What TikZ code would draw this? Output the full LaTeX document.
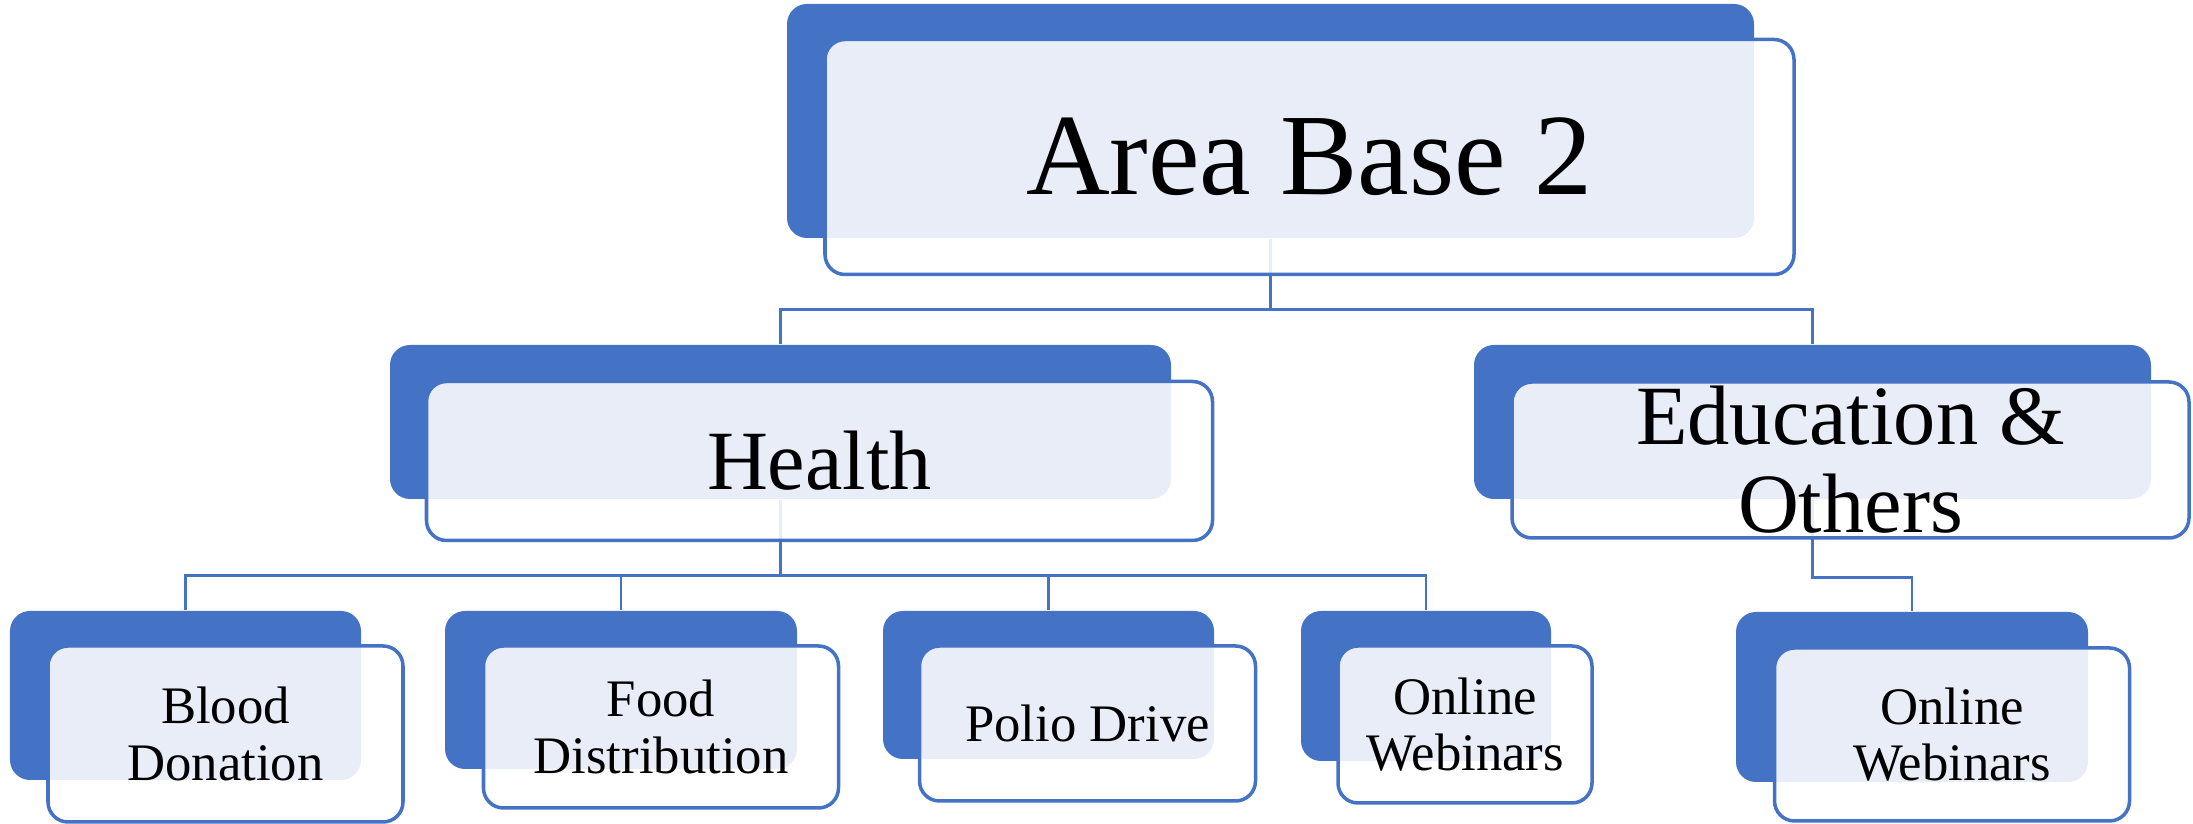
\documentclass[tikz,border=0pt]{standalone}
\usepackage{fontspec}
\setmainfont{Liberation Serif}
\definecolor{boxblue}{HTML}{4472C4}
\tikzset{
  back/.style={rectangle, rounded corners=0.2cm, fill=boxblue, inner sep=0pt},
  front/.style={rectangle, rounded corners=0.2cm, draw=boxblue, line width=1pt,
    fill=white, fill opacity=0.88, text opacity=1, align=center, inner sep=0pt},
  link/.style={draw=boxblue, line width=0.8pt},
  big/.style={font=\fontsize{33}{36}\selectfont},
  mid/.style={font=\fontsize{24}{25}\selectfont},
  small/.style={font=\fontsize{15}{16}\selectfont}
}

\begin{document}
\begin{tikzpicture}
\useasboundingbox (0,0) rectangle (21.93,-8.24);
% dark boxes behind
\node[back, minimum width=9.67cm, minimum height=2.34cm] (top) at (12.705,-1.21) {};
\node[back, minimum width=7.81cm, minimum height=1.54cm] (health) at (7.805,-4.22) {};
\node[back, minimum width=6.77cm, minimum height=1.54cm] (edu) at (18.125,-4.22) {};
\node[back, minimum width=3.51cm, minimum height=1.69cm] (blood) at (1.855,-6.955) {};
\node[back, minimum width=3.52cm, minimum height=1.58cm] (food) at (6.21,-6.90) {};
\node[back, minimum width=3.31cm, minimum height=1.48cm] (polio) at (10.485,-6.85) {};
\node[back, minimum width=2.50cm, minimum height=1.50cm] (web1) at (14.26,-6.86) {};
\node[back, minimum width=3.52cm, minimum height=1.70cm] (web2) at (19.12,-6.97) {};
% connectors
\draw[link] (top.south) -- ++(0,-0.71) -| (health.north);
\draw[link] (top.south) -- ++(0,-0.71) -| (edu.north);
\foreach \n in {blood,food,polio,web1}
  \draw[link] (health.south) -- ++(0,-0.76) -| (\n.north);
\draw[link] (edu.south) -- ++(0,-0.78) -| (web2.north);
% front boxes with text
\node[front, big, minimum width=9.69cm, minimum height=2.35cm] (topf) at ([shift={(0.39,-0.36)}]top.center) {Area Base 2};
\node[front, mid, minimum width=7.86cm, minimum height=1.59cm] (healthf) at ([shift={(0.39,-0.39)}]health.center) {Health};
\node[front, mid, minimum width=6.77cm, minimum height=1.56cm] (eduf) at ([shift={(0.38,-0.38)}]edu.center) {Education \&\\Others};
\node[front, small, minimum width=3.55cm, minimum height=1.76cm] (bloodf) at ([shift={(0.40,-0.385)}]blood.center) {Blood\\Donation};
\node[front, small, minimum width=3.55cm, minimum height=1.62cm] (foodf) at ([shift={(0.40,-0.37)}]food.center) {Food\\Distribution};
\node[front, small, minimum width=3.36cm, minimum height=1.55cm] (poliof) at ([shift={(0.39,-0.385)}]polio.center) {Polio Drive};
\node[front, small, minimum width=2.54cm, minimum height=1.57cm] (web1f) at ([shift={(0.39,-0.385)}]web1.center) {Online\\Webinars};
\node[front, small, minimum width=3.55cm, minimum height=1.73cm] (web2f) at ([shift={(0.40,-0.375)}]web2.center) {Online\\Webinars};
\end{tikzpicture}
\end{document}
